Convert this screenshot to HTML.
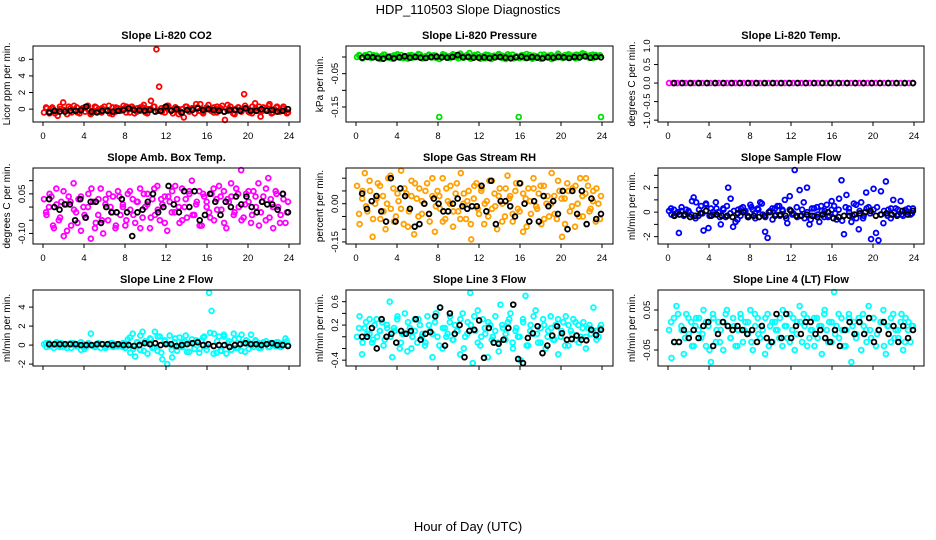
<!DOCTYPE html>
<html><head><meta charset="utf-8">
<style>
html,body{margin:0;padding:0;background:#fff;}
svg{display:block;font-family:"Liberation Sans",sans-serif;}
</style></head>
<body>
<svg id="chart" width="936" height="540" viewBox="0 0 936 540" xmlns="http://www.w3.org/2000/svg">
<text x="468" y="14" font-size="13" text-anchor="middle">HDP_110503  Slope Diagnostics</text>
<text x="468" y="531" font-size="13" text-anchor="middle">Hour of Day (UTC)</text>
</svg>
<script>
const xTicks = [0,4,8,12,16,20,24];
const panelTitles = ["Slope Li-820 CO2","Slope Li-820 Pressure","Slope Li-820 Temp.","Slope Amb. Box Temp.","Slope Gas Stream RH","Slope Sample Flow","Slope Line 2 Flow","Slope Line 3 Flow","Slope Line 4 (LT) Flow"];
const yTitles = ["Licor ppm per min.","kPa per min.","degrees C per min.","degrees C per min.","percent per min.","ml/min per min.","ml/min per min.","ml/min per min.","ml/min per min."];

const co2Color = [-0.4,0.1,-0.3,0.2,-0.5,-0.8,0.0,0.8,-0.2,0.3,-0.4,-0.1,0.2,-0.5,0.1,-0.3,0.4,-0.6,-0.2,0.2,0.0,-0.4,0.3,-0.1,-0.5,0.2,-0.3,0.1,-0.2,0.4,-0.4,0.0,0.3,-0.5,0.1,-0.2,0.2,-0.4,0.0,1.0,0.3,7.2,2.7,-0.3,0.2,0.4,-0.1,-0.5,0.2,0.0,-0.4,-1.0,0.3,-0.2,0.1,-0.5,0.2,0.6,-0.3,0.0,0.5,-0.2,0.2,-0.4,0.1,0.4,-1.3,-0.2,0.3,-0.5,0.0,0.2,-0.3,1.8,0.1,-0.4,0.3,0.7,-0.2,-0.9,0.2,-0.1,0.4,-0.5,0.0,0.3,-0.3,0.1,-0.2,-0.4];
const co2Color2 = [0.2,-0.5,0.0,-0.3,0.3,-0.1,-0.6,0.1,0.4,-0.4,-0.2,0.2,0.0,-0.5,0.3,-0.3,0.1,-0.1,0.4,-0.6,0.2,-0.2,0.0,0.3,-0.4,0.1,-0.3,0.2,0.5,-0.5,0.0,0.3,-0.2,0.1,-0.4,0.4,-0.1,0.2,-0.6,0.0,0.3,-0.3,0.1,0.6,-0.2,-0.5,0.2,0.0,-0.4,0.3,0.1,-0.3,0.5,-0.1,-0.6,0.2,0.0,0.4,-0.3,-0.5,0.1,0.3,-0.2,0.0,0.6,-0.4,0.2,-0.1,0.3,-0.5];
const co2Black = [-0.4,-0.2,-0.3,-0.3,-0.2,-0.2,-0.1,0.3,-0.3,-0.4,-0.2,-0.2,-0.3,-0.2,-0.1,0.1,-0.1,-0.1,-0.2,-0.1,-0.3,-0.2,0.3,-0.2,0.0,-0.4,-0.1,-0.1,0.1,-0.1,0.0,-0.1,-0.2,-0.3,-0.1,-0.1,-0.2,0.1,-0.2,-0.2,0.0,-0.2,-0.1,-0.3,-0.2,0.0];
const presColor = [0.0,0.004,-0.003,0.006,0.001,-0.002,0.005,0.0,-0.004,0.003,0.007,-0.001,0.002,-0.005,0.004,0.0,0.006,-0.003,0.002,0.005,-0.002,0.003,0.0,0.007,-0.004,0.001,0.004,-0.001,0.005,-0.003,-0.18,0.002,0.006,-0.002,0.003,0.008,0.0,-0.004,0.004,0.002,0.005,0.012,-0.003,0.006,0.0,-0.005,0.003,0.007,-0.002,-0.006,0.004,0.001,0.006,-0.003,0.002,0.008,0.0,-0.004,0.003,-0.18,0.005,-0.002,0.001,0.006,-0.005,0.003,0.0,0.007,-0.003,0.002,0.004,-0.006,0.001,0.005,0.0,-0.003,0.006,0.002,-0.001,0.004,0.007,-0.002,0.003,0.009,0.0,0.005,-0.003,0.006,0.002,-0.18];
const presColor2 = [0.006,-0.004,0.002,0.009,-0.001,0.004,-0.006,0.007,0.001,-0.003,0.005,0.008,-0.002,0.003,-0.005,0.006,0.0,0.009,-0.004,0.002,0.007,-0.001,0.004,-0.006,0.008,0.002,-0.003,0.005,0.0,0.01,-0.002,0.006,-0.005,0.003,0.008,0.001,-0.004,0.006,0.002,-0.001,0.009,0.004,-0.006,0.003,0.007,0.0,-0.003,0.005,0.009,-0.002,0.004,0.001,-0.005,0.007,0.002,0.006,-0.003,0.01,0.003,-0.001,0.008,0.004,-0.004,0.006,0.011,0.002,-0.002,0.007,0.003,0.005];
const presBlack = [-0.002,0.0,-0.001,-0.003,-0.005,0.0,-0.004,-0.001,0.002,-0.002,0.0,-0.002,-0.003,0.0,0.001,-0.001,-0.002,0.0,0.006,-0.001,0.0,-0.002,-0.002,-0.001,-0.003,-0.001,0.0,-0.002,-0.004,-0.001,0.001,-0.003,0.0,-0.002,-0.004,-0.001,-0.002,0.0,-0.001,-0.003,0.0,-0.001,0.002,-0.002,0.0,-0.001];
const tempColor = [0,0,0,0,0,0,0,0,0,0,0,0,0,0,0,0,0,0,0,0,0,0,0,0,0,0,0,0,0,0,0,0,0,0,0,0,0,0,0,0,0,0,0,0,0,0,0,0,0,0,0,0,0,0,0,0,0,0,0,0];
const tempColor2 = [];
const tempBlack = [0,0,0,0,0,0,0,0,0,0,0,0,0,0,0,0,0,0,0,0,0,0,0,0,0,0,0,0,0,0];
const ambColor = [0.03,-0.03,0.0,0.04,-0.08,0.07,-0.05,0.02,-0.11,0.01,0.04,-0.07,0.09,-0.02,0.03,-0.09,0.0,-0.04,0.05,-0.12,0.02,-0.06,-0.03,0.07,-0.1,0.03,-0.05,0.0,0.04,-0.08,0.06,-0.03,0.01,-0.07,0.05,-0.01,0.03,-0.06,0.02,0.07,-0.04,0.0,0.05,-0.08,0.03,-0.03,0.08,-0.05,0.01,0.04,-0.09,0.02,0.06,-0.02,0.03,-0.06,0.07,0.0,-0.04,0.05,0.1,-0.03,0.02,0.06,-0.07,0.04,0.0,-0.02,0.05,-0.05,0.03,0.08,-0.01,0.06,-0.08,0.02,0.04,-0.03,0.07,0.0,0.14,-0.04,0.05,0.02,-0.06,0.06,0.0,0.09,-0.02,0.04,-0.05,0.11,0.03,-0.08,0.06,0.0,-0.03,0.05,-0.06,0.02];
const ambColor2 = [-0.02,0.05,-0.07,0.01,-0.04,0.06,-0.09,0.02,-0.01,-0.06,0.04,-0.03,0.0,0.07,-0.08,0.03,-0.05,0.01,0.05,-0.02,-0.07,0.04,0.0,-0.05,0.06,-0.03,0.02,-0.08,0.05,0.01,-0.04,0.07,-0.01,0.03,-0.06,0.04,-0.02,0.08,0.0,-0.05,0.03,0.06,-0.03,0.01,-0.07,0.05,0.02,-0.04,0.07,-0.01,0.04,-0.06,0.03,0.09,-0.02,0.05,-0.05,0.01,0.06,-0.03,0.04,-0.07,0.02,0.07,-0.04,0.0,0.05,-0.06,0.03,-0.02];
const ambBlack = [0.03,0.0,-0.01,0.01,0.01,-0.05,0.03,-0.04,0.02,0.02,-0.06,0.0,-0.02,-0.02,0.03,-0.02,-0.11,-0.02,-0.01,0.02,0.05,-0.02,0.0,0.08,0.01,-0.02,0.06,0.0,0.06,-0.05,-0.03,0.05,0.02,-0.03,0.02,0.0,0.04,0.01,0.04,0.0,-0.02,0.02,0.01,0.01,-0.01,0.05,-0.02];
const rhColor = [0.07,-0.08,0.02,0.12,-0.03,0.05,-0.13,0.0,0.08,-0.06,0.03,-0.1,0.1,-0.02,0.06,-0.05,0.01,0.13,-0.08,0.04,-0.03,0.09,-0.12,0.02,0.06,-0.04,0.0,0.08,-0.07,0.03,-0.11,0.05,-0.02,0.1,-0.06,0.01,0.07,-0.09,0.04,-0.03,0.12,0.0,-0.06,0.05,-0.14,0.02,0.08,-0.04,0.06,-0.08,0.01,0.09,-0.02,0.04,-0.1,0.06,0.0,-0.05,0.11,0.03,-0.07,0.05,-0.02,0.08,-0.11,0.02,0.06,-0.04,0.1,-0.01,0.04,-0.08,0.07,0.0,-0.05,0.12,0.03,-0.06,0.05,-0.13,0.02,0.08,-0.03,0.06,-0.09,0.0,0.1,-0.05,0.04,0.07,-0.02,0.05,-0.07,0.0,0.03];
const rhColor2 = [-0.04,0.05,-0.01,0.09,-0.06,0.02,0.07,-0.03,0.0,0.11,-0.07,0.04,-0.02,0.06,-0.09,0.03,0.08,-0.05,0.01,0.05,-0.04,0.1,-0.01,0.03,-0.07,0.06,0.0,-0.03,0.08,-0.06,0.04,0.01,-0.08,0.07,-0.02,0.05,0.0,-0.05,0.09,-0.01,0.03,-0.07,0.06,0.02,-0.04,0.08,-0.03,0.04,-0.09,0.01,0.06,-0.02,0.07,-0.06,0.03,0.0,-0.04,0.09,0.02,-0.08,0.05,-0.01,0.07,-0.05,0.03,0.1,-0.03,0.01,0.06,-0.06];
const rhBlack = [0.04,-0.02,0.01,0.03,-0.03,-0.07,0.1,-0.07,0.06,0.03,-0.02,-0.09,-0.08,0.0,-0.04,0.02,0.0,-0.03,-0.03,0.0,0.02,-0.01,-0.02,-0.01,-0.01,0.07,-0.03,0.09,-0.08,0.01,0.01,-0.01,-0.05,0.08,0.0,-0.07,0.01,-0.07,0.03,-0.01,0.01,-0.04,0.05,-0.1,0.05,-0.04,0.05,-0.08,0.02,-0.06,-0.04];
const flowColor = [0.1,-0.2,0.2,-0.1,-1.7,0.1,-0.3,0.2,0.0,-0.2,1.2,0.8,-0.3,0.5,-1.5,0.7,-1.3,0.3,-0.2,0.8,0.0,-1.0,0.3,-0.4,2.0,1.1,-1.2,-0.8,0.2,-0.3,0.4,0.1,-0.4,0.6,0.2,-0.5,0.3,0.8,-0.2,-1.6,-2.1,0.1,-0.6,0.3,0.5,-0.3,0.2,1.0,-0.9,1.3,-0.2,3.5,-0.4,1.8,0.2,-0.5,2.0,-1.0,0.3,-0.3,0.4,-0.8,0.1,-0.4,0.6,-0.3,0.2,0.5,-0.6,1.1,2.6,-1.8,1.4,0.3,-0.8,0.7,-0.5,-1.4,0.8,-0.3,1.6,0.4,-2.2,1.9,-1.7,-2.3,1.7,-0.9,2.5,0.2,-0.5,1.0,0.3,-0.2,0.9,-0.3,0.2,0.0,-0.2,0.3];
const flowColor2 = [0.3,-0.3,0.0,0.4,-0.2,0.1,0.9,-0.5,0.2,-0.1,0.6,-0.3,0.0,0.3,-0.4,0.2,0.5,-0.1,0.1,-0.6,0.3,0.0,-0.3,0.4,-0.1,0.2,0.7,-0.4,0.0,0.3,-0.2,0.5,0.1,-0.5,0.2,-0.1,0.4,-0.3,0.8,0.0,-0.6,0.3,-0.2,0.5,0.1,-0.4,0.9,-0.1,0.2,-0.7,0.4,0.0,-0.3,0.6,0.1,-0.5,0.3,-0.1,0.2,0.4,-0.2,0.1,-0.3,0.3,0.0,0.2,-0.2,0.1,0.3,-0.1];
const flowBlack = [-0.3,-0.2,-0.2,-0.4,-0.3,-0.1,0.1,-0.3,-0.2,-0.3,-0.3,-0.4,-0.1,0.0,-0.4,-0.3,-0.4,-0.3,0.0,-0.3,-0.2,-0.3,0.1,-0.3,-0.3,-0.2,-0.3,-0.4,-0.2,0.0,-0.5,-0.4,-0.3,-0.3,-0.2,-0.1,0.0,0.1,-0.3,-0.2,-0.1,-0.2,-0.3,0.1,-0.2,0.1];
const line2Color = [0.1,-0.2,0.2,0.0,-0.3,0.1,-0.1,0.2,-0.2,0.0,0.1,-0.3,0.2,-0.1,0.0,-0.5,0.1,-0.2,0.2,1.2,-0.1,0.0,0.2,-0.3,0.1,-0.1,0.0,0.2,-0.2,0.1,-0.1,0.0,0.2,-0.3,0.6,-0.8,1.2,-1.2,0.3,-0.5,1.4,0.4,-0.9,0.7,-0.3,1.4,-0.6,0.9,-1.5,0.5,-2.0,1.0,-1.3,0.3,-0.6,0.8,-0.2,0.4,-0.7,0.2,0.6,-0.4,0.3,-0.8,0.5,0.9,-0.5,5.5,3.6,1.2,-0.8,0.9,-0.6,1.1,-0.9,0.4,-0.5,1.2,-0.3,0.7,-0.6,0.2,0.5,-0.4,1.1,-0.2,0.4,0.2,-0.3,0.3,0.1,-0.2,0.2,0.0,-0.1,0.3,-0.2,0.1,0.7,0.0];
const line2Color2 = [0.2,-0.1,0.0,0.3,-0.2,0.1,-0.3,0.2,0.0,-0.1,0.3,-0.4,0.1,0.0,-0.2,0.2,0.1,-0.3,0.0,0.2,-0.1,0.1,-0.2,0.0,0.8,-0.4,0.3,1.0,-0.6,0.2,0.6,-0.3,0.9,-0.8,0.4,0.1,-0.5,0.7,-0.2,0.3,1.0,-0.7,0.2,0.5,-0.4,0.8,-0.1,1.3,-0.9,0.4,-0.6,0.9,0.2,-0.5,0.6,-0.3,1.1,-0.7,0.3,0.0,0.5,-0.3,0.2,0.4,-0.2,0.1,0.3,-0.1,0.2,0.4];
const line2Black = [0.1,0.1,0.1,0.1,0.1,0.1,0.0,0.0,0.0,0.1,0.1,0.1,0.0,0.1,0.0,0.0,-0.1,0.0,0.2,0.1,0.2,0.0,0.1,0.1,-0.1,0.0,0.1,0.2,0.3,0.0,0.1,-0.1,0.0,0.0,-0.2,0.0,0.1,0.2,0.1,0.1,0.0,0.1,0.2,0.0,0.0,-0.1];
const line3Color = [0.0,0.35,-0.3,0.15,0.05,0.3,-0.1,0.2,0.0,0.1,0.25,-0.05,0.15,0.6,-0.35,0.1,0.3,-0.2,0.05,0.4,-0.25,0.15,0.0,0.3,-0.1,0.2,0.05,-0.15,0.35,0.1,-0.35,0.25,0.0,0.5,-0.2,0.15,0.05,0.35,-0.05,0.2,0.1,-0.3,0.4,0.0,0.25,0.75,-0.45,0.1,0.45,-0.15,0.3,0.05,-0.35,0.2,0.0,0.35,-0.1,0.55,0.15,-0.05,0.25,0.4,-0.2,0.1,0.0,-0.4,0.3,0.7,-0.15,0.2,0.05,0.45,-0.1,0.15,0.3,-0.2,0.1,0.35,-0.05,0.2,-0.3,0.0,0.25,0.35,-0.15,0.1,0.3,-0.05,0.2,0.0,0.25,-0.2,0.15,0.05,0.5,0.1,0.0,0.2];
const line3Color2 = [0.15,-0.1,0.25,0.05,-0.05,0.3,0.1,-0.15,0.2,0.0,0.15,0.35,-0.1,0.05,0.25,-0.2,0.1,0.3,0.0,-0.1,0.2,0.05,0.4,-0.15,0.15,0.0,0.25,-0.05,0.1,0.3,-0.2,0.05,0.2,0.35,-0.1,0.0,0.15,0.25,-0.05,0.1,-0.25,0.2,0.05,0.3,-0.1,0.15,0.0,0.25,-0.15,0.1,0.35,0.05,-0.1,0.2,0.0,0.15,-0.05,0.3,0.1,-0.15,0.2,0.05,0.25,-0.1,0.15,0.0,0.2,0.1,-0.05,0.15];
const line3Black = [0.0,0.0,0.15,-0.2,0.3,0.0,0.05,-0.1,0.1,0.05,0.1,0.3,-0.05,0.05,0.08,0.35,0.5,-0.15,0.4,0.05,0.2,-0.35,0.1,0.12,0.28,-0.36,0.15,-0.1,-0.12,-0.05,0.15,0.55,-0.38,-0.45,-0.02,0.06,0.18,-0.28,-0.15,0.02,0.18,0.06,-0.05,-0.04,0.02,-0.05,-0.06,0.12,0.03,0.12];
const line4Color = [0.0,-0.07,0.03,0.06,-0.03,0.01,-0.06,0.04,-0.01,0.02,-0.04,0.03,0.0,-0.02,0.05,-0.04,0.01,-0.08,0.03,-0.03,0.02,0.0,-0.05,0.04,0.01,-0.02,0.03,-0.04,0.0,0.04,-0.03,0.02,-0.01,0.05,-0.05,0.01,0.03,-0.02,0.0,-0.06,0.04,0.01,-0.03,0.02,0.0,0.03,-0.04,0.01,-0.02,0.04,0.0,-0.05,0.02,0.06,-0.03,0.01,0.03,-0.02,0.0,-0.04,0.03,0.01,-0.06,0.04,0.0,0.02,-0.03,0.1,0.01,-0.02,0.03,-0.04,0.0,0.04,-0.08,0.02,-0.01,0.03,-0.05,0.01,0.0,0.06,-0.02,0.03,-0.04,0.0,0.02,0.05,-0.06,0.01,-0.03,0.04,0.0,-0.02,0.02,-0.05,0.03,0.0,-0.03,0.01];
const line4Color2 = [0.02,-0.03,0.04,0.0,-0.02,0.03,-0.04,0.01,0.03,-0.01,0.02,-0.05,0.04,0.0,-0.03,0.02,0.05,-0.02,0.01,-0.04,0.03,0.0,0.02,-0.03,0.04,-0.01,0.01,0.03,-0.04,0.02,0.0,-0.02,0.05,0.01,-0.03,0.03,-0.01,0.02,0.04,-0.04,0.0,0.03,-0.02,0.01,0.05,-0.03,0.02,-0.01,0.04,0.0,-0.04,0.03,0.01,-0.02,0.02,0.04,-0.03,0.0,0.03,-0.01,0.02,-0.04,0.01,0.03,-0.02,0.0,0.04,-0.03,0.02,0.01];
const line4Black = [-0.03,-0.03,0.0,-0.02,0.0,-0.02,0.01,0.02,-0.04,-0.01,0.02,0.01,0.0,0.01,0.0,-0.01,0.0,-0.03,0.01,-0.02,-0.03,0.04,-0.02,0.04,-0.02,0.01,-0.01,0.02,0.02,-0.01,0.0,-0.02,-0.03,0.0,-0.04,0.0,0.02,-0.01,0.02,-0.01,0.03,-0.03,0.0,0.02,-0.01,0.01,-0.03,0.01,-0.02,0.0];

const co2Ticks=[0,2,4,6], co2Labels=["0","2","4","6"];
const presTicks=[0,-0.05,-0.1,-0.15], presLabels=["","-0.05","","-0.15"];
const tempTicks=[1,0.5,0,-0.5,-1], tempLabels=["1.0","0.5","0.0","-0.5","-1.0"];
const ambTicks=[0.1,0.05,0,-0.05,-0.1], ambLabels=["","0.05","","","-0.10"];
const rhTicks=[0.1,0.05,0,-0.05,-0.1,-0.15], rhLabels=["","","0.00","","","-0.15"];
const flowTicks=[3,2,1,0,-1,-2], flowLabels=["","2","","0","","-2"];
const line2Ticks=[4,2,0,-2], line2Labels=["4","2","0","-2"];
const line3Ticks=[0.6,0.4,0.2,0,-0.2,-0.4], line3Labels=["0.6","","0.2","","","-0.4"];
const line4Ticks=[0.05,0,-0.05], line4Labels=["0.05","","-0.05"];

const cols=[{l:33,r:300,x0:43,x1:289},{l:346,r:613,x0:356,x1:602},{l:658,r:924,x0:668,x1:914}];
const rows=[{t:46,b:122},{t:168,b:244},{t:290,b:366}];
const panels=[
 {c:co2Color,c2:co2Color2,k:co2Black,col:"#ff0000",yr:[-1.55,7.6],t:co2Ticks,tl:co2Labels},
 {c:presColor,c2:presColor2,k:presBlack,col:"#00e000",yr:[-0.195,0.033],t:presTicks,tl:presLabels},
 {c:tempColor,c2:tempColor2,k:tempBlack,col:"#ff00ff",yr:[-1.05,1.0],t:tempTicks,tl:tempLabels},
 {c:ambColor,c2:ambColor2,k:ambBlack,col:"#ff00ff",yr:[-0.14,0.148],t:ambTicks,tl:ambLabels},
 {c:rhColor,c2:rhColor2,k:rhBlack,col:"#ffa000",yr:[-0.158,0.14],t:rhTicks,tl:rhLabels},
 {c:flowColor,c2:flowColor2,k:flowBlack,col:"#0000ff",yr:[-2.6,3.6],t:flowTicks,tl:flowLabels},
 {c:line2Color,c2:line2Color2,k:line2Black,col:"#00ffff",yr:[-2.2,5.8],t:line2Ticks,tl:line2Labels},
 {c:line3Color,c2:line3Color2,k:line3Black,col:"#00ffff",yr:[-0.5,0.8],t:line3Ticks,tl:line3Labels},
 {c:line4Color,c2:line4Color2,k:line4Black,col:"#00ffff",yr:[-0.09,0.1],t:line4Ticks,tl:line4Labels}
];
const svg=document.getElementById('chart');
const NS="http://www.w3.org/2000/svg";
function mk(tag,attrs,parent){const e=document.createElementNS(NS,tag);for(const k in attrs)e.setAttribute(k,attrs[k]);parent.appendChild(e);return e;}
panels.forEach((p,i)=>{
  const C=cols[i%3],R=rows[Math.floor(i/3)];
  const g=mk('g',{},svg);
  
  
  const xs=h=>C.x0+(C.x1-C.x0)*h/24;
  const ys=v=>R.b-(v-p.yr[0])/(p.yr[1]-p.yr[0])*(R.b-R.t);
  const ttl=mk('text',{x:(C.l+C.r)/2,y:R.t-7,'font-size':11,'font-weight':'bold','text-anchor':'middle'},g);
  ttl.textContent=panelTitles[i];
  
  
  const yt=mk('text',{x:0,y:0,'font-size':10,'text-anchor':'middle',transform:`translate(${C.l-23},${(R.t+R.b)/2}) rotate(-90)`},g);
  yt.textContent=yTitles[i];
  
  
  const pg=mk('g',{},g);
  
  
  const drawSet=(arr,start,span,stroke,name)=>{
    const n=arr.length;
    arr.forEach((v,j)=>{
      const h=start+span*j/Math.max(1,n-1);
      const cy=Math.max(R.t+2,Math.min(R.b-2,ys(v)));
      const c=mk('circle',{cx:xs(h),cy:cy,r:2.4,fill:'none',stroke:stroke,'stroke-width':1.8},pg);
      
      
    });
  };
  drawSet(p.c,0.1,23.8,p.col,'point');
  drawSet(p.c2,0.3,23.5,p.col,'point');
  drawSet(p.k,0.6,23.3,'#000','mean-point');
  const box=mk('rect',{x:C.l,y:R.t,width:C.r-C.l,height:R.b-R.t,fill:'none',stroke:'#000','stroke-width':1},g);
  
  
  xTicks.forEach(tv=>{
    const x=xs(tv);
    mk('line',{x1:x,y1:R.b,x2:x,y2:R.b+4,stroke:'#000'},g);
    if(i<6){const t=mk('text',{x:x,y:R.b+17,'font-size':9.5,'text-anchor':'middle'},g);t.textContent=tv;
      
      }
  });
  p.t.forEach((tv,j)=>{
    const y=ys(tv);
    mk('line',{x1:C.l-4,y1:y,x2:C.l,y2:y,stroke:'#000'},g);
    if(p.tl[j]){const t=mk('text',{x:0,y:0,'font-size':9.5,'text-anchor':'middle',transform:`translate(${C.l-8},${y}) rotate(-90)`},g);t.textContent=p.tl[j];
      
      }
  });
});
</script>
</body></html>
